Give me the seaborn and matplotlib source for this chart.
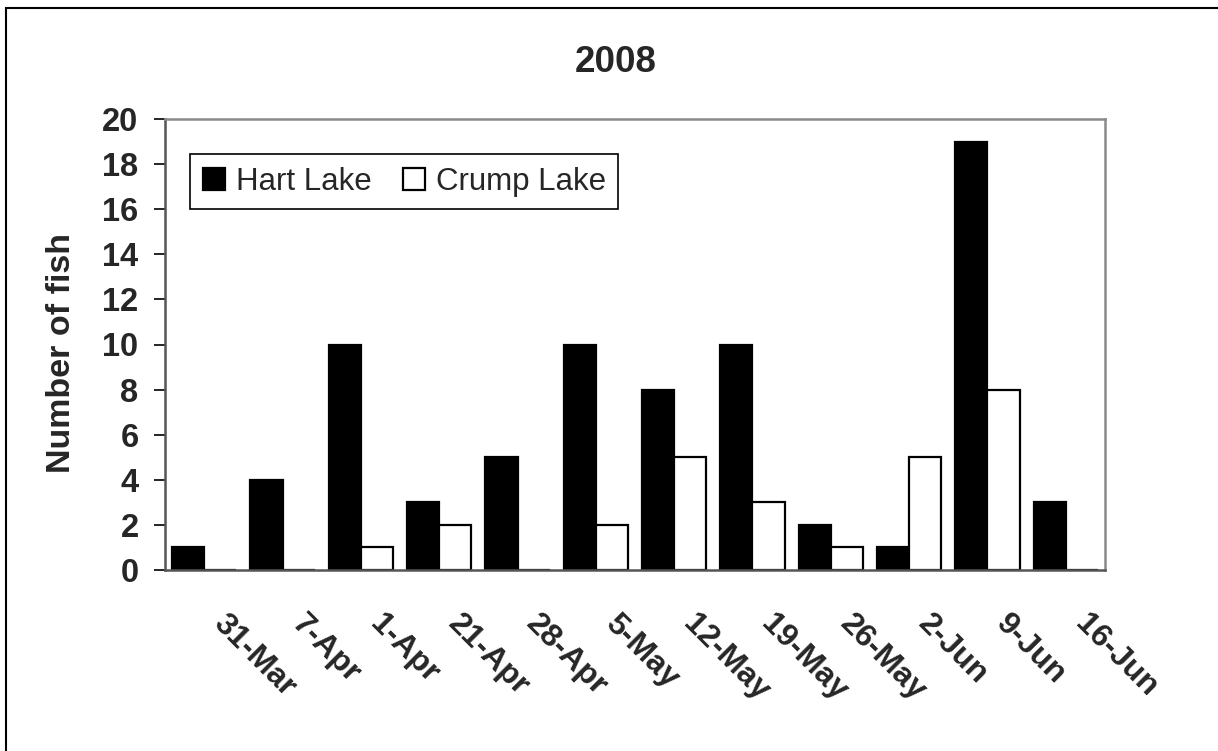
import matplotlib
matplotlib.use("Agg")
import matplotlib.pyplot as plt
import matplotlib.transforms as mtransforms
from matplotlib.patches import Rectangle
import seaborn as sns
import pandas as pd
import numpy as np

categories = ['31-Mar', '7-Apr', '1-Apr', '21-Apr', '28-Apr', '5-May',
              '12-May', '19-May', '26-May', '2-Jun', '9-Jun', '16-Jun']
hart_lake = [1, 4, 10, 3, 5, 10, 8, 10, 2, 1, 19, 3]
crump_lake = [0, 0, 1, 2, 0, 2, 5, 3, 1, 5, 8, 0]
series_names = ['Hart Lake', 'Crump Lake']
y_ticks = [0, 2, 4, 6, 8, 10, 12, 14, 16, 18, 20]
title = '2008'
y_label = 'Number of fish'

sns.set_theme(style='white')
plt.rcParams['font.family'] = ['Liberation Sans', 'DejaVu Sans']

df = pd.DataFrame({
    'Date': categories * 2,
    'Lake': [series_names[0]] * len(categories) + [series_names[1]] * len(categories),
    'Count': hart_lake + crump_lake,
})

fig = plt.figure(figsize=(12.18, 7.51), dpi=100)
ax = fig.add_axes([165 / 1218, 1 - 570 / 751, (1105 - 165) / 1218, (570 - 119) / 751])

sns.barplot(data=df, x='Date', y='Count', hue='Lake', order=categories,
            hue_order=series_names,
            palette={series_names[0]: 'black', series_names[1]: 'white'},
            edgecolor='black', linewidth=1.6, width=0.82, gap=0,
            errorbar=None, ax=ax, legend=True)

ax.set_xlim(-0.5, len(categories) - 0.5)
ax.set_ylim(0, 20)
ax.set_yticks(y_ticks)
ax.set_yticklabels([str(v) for v in y_ticks], fontsize=23.5, fontweight='bold')
ax.set_xlabel('')
ax.set_ylabel('')

# x ticks: marks at category boundaries, labels at centres
ax.set_xticks(np.arange(len(categories)))
ax.set_xticklabels(categories, fontsize=23, fontweight='bold',
                   rotation=-45, ha='left', va='top', rotation_mode='anchor')
ax.set_xticks(np.arange(-0.5, len(categories), 1.0), minor=True)
ax.tick_params(axis='x', which='major', length=0, pad=28)
ax.tick_params(axis='x', which='minor', length=7, width=1.2, color='black', direction='out')
ax.tick_params(axis='y', which='major', length=8, width=1.2, color='black',
               direction='out', pad=11, left=True)

offset = mtransforms.ScaledTranslation(0.24, 0, fig.dpi_scale_trans)
for lab in ax.get_xticklabels():
    lab.set_transform(lab.get_transform() + offset)

for side in ['top', 'right']:
    ax.spines[side].set_color('#8a8a8a')
    ax.spines[side].set_linewidth(1.8)
for side in ['left', 'bottom']:
    ax.spines[side].set_color('#555555')
    ax.spines[side].set_linewidth(1.8)
ax.grid(False)

leg = ax.legend(loc='upper left', bbox_to_anchor=(0.027, 0.922), borderaxespad=0,
                ncol=2, fontsize=22.5, frameon=True, fancybox=False,
                handlelength=0.7, handleheight=0.7, handletextpad=0.35,
                columnspacing=1.0, borderpad=0.4, title=None)
leg.get_frame().set_edgecolor('black')
leg.get_frame().set_linewidth(1.2)
leg.get_frame().set_alpha(1)

fig.text(616 / 1218, 1 - 72 / 751, title, fontsize=26.5, fontweight='bold',
         ha='center', va='baseline')
fig.text(62 / 1218, 1 - 353 / 751, y_label, fontsize=24.5, fontweight='bold',
         rotation=90, ha='center', va='center')

fig.patches.append(Rectangle((6 / 1218, -0.05), 1.1, 1 - 8 / 751 + 0.05,
                             transform=fig.transFigure, fill=False,
                             edgecolor='black', linewidth=1.5))

fig.savefig('out.png', dpi=100)
